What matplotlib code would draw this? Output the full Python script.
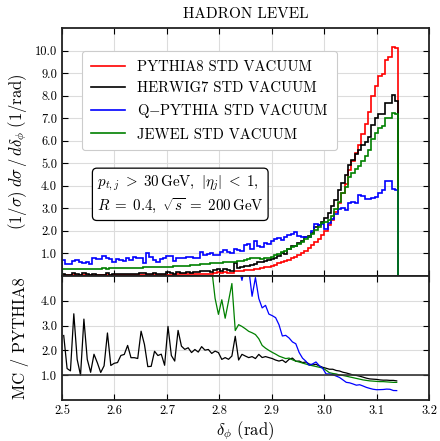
import numpy as np
import matplotlib
matplotlib.use("Agg")
import matplotlib.pyplot as plt
from matplotlib.ticker import FormatStrFormatter, FixedLocator

plt.rcParams['font.family'] = ['cmr10', 'DejaVu Serif']
plt.rcParams['mathtext.fontset'] = 'cm'
plt.rcParams['axes.formatter.use_mathtext'] = True

# ---- data: 100 bins in delta_phi from 2.5 to pi ----
x_min = 2.5
x_max = np.pi
n_bins = 100

pythia8 = [
    0.040, 0.041, 0.040, 0.042, 0.041, 0.043, 0.042, 0.044, 0.043, 0.045,
    0.044, 0.046, 0.045, 0.047, 0.046, 0.048, 0.047, 0.049, 0.049, 0.050,
    0.051, 0.051, 0.052, 0.053, 0.054, 0.055, 0.056, 0.057, 0.058, 0.059,
    0.060, 0.062, 0.063, 0.065, 0.067, 0.070, 0.073, 0.076, 0.080, 0.084,
    0.088, 0.093, 0.100, 0.107, 0.106, 0.139, 0.168, 0.146, 0.182, 0.153,
    0.132, 0.225, 0.214, 0.226, 0.250, 0.268, 0.287, 0.310, 0.330, 0.350,
    0.38, 0.41, 0.45, 0.50, 0.56, 0.62, 0.66, 0.72, 0.79, 0.86,
    0.93, 1.02, 1.12, 1.23, 1.36, 1.50, 1.65, 1.82, 2.00, 2.25,
    2.50, 2.85, 3.25, 3.70, 4.10, 4.70, 5.10, 5.45, 5.82, 6.30,
    6.74, 7.27, 7.97, 8.44, 8.86, 8.98, 9.57, 9.72, 10.15, 10.10,
]

herwig7 = [
    0.104, 0.052, 0.047, 0.146, 0.067, 0.043, 0.137, 0.072, 0.048, 0.083,
    0.066, 0.051, 0.062, 0.127, 0.064, 0.071, 0.071, 0.088, 0.090, 0.110,
    0.087, 0.087, 0.087, 0.147, 0.121, 0.074, 0.076, 0.112, 0.104, 0.109,
    0.084, 0.184, 0.113, 0.102, 0.188, 0.152, 0.149, 0.160, 0.153, 0.171,
    0.170, 0.200, 0.201, 0.218, 0.199, 0.274, 0.321, 0.239, 0.311, 0.251,
    0.234, 0.578, 0.345, 0.416, 0.443, 0.458, 0.502, 0.518, 0.607, 0.599,
    0.665, 0.701, 0.752, 0.805, 0.879, 0.998, 0.997, 1.181, 1.335, 1.342,
    1.460, 1.540, 1.714, 1.784, 1.918, 2.160, 2.260, 2.400, 2.560, 2.790,
    3.10, 3.39, 3.80, 4.14, 4.47, 4.94, 5.15, 5.40, 5.59, 5.80,
    5.93, 6.18, 6.69, 7.01, 7.18, 7.18, 7.66, 7.68, 8.02, 7.78,
]

qpythia = [
    0.71, 0.53, 0.52, 0.68, 0.71, 0.62, 0.59, 0.64, 0.55, 0.78,
    0.76, 0.74, 0.89, 0.80, 0.74, 0.64, 0.74, 0.70, 0.68, 0.78,
    0.72, 0.86, 0.80, 0.78, 0.59, 1.00, 0.85, 0.72, 0.64, 0.75,
    0.82, 0.87, 0.89, 0.65, 0.80, 0.80, 0.78, 0.86, 0.83, 0.80,
    0.78, 1.08, 0.93, 0.96, 1.01, 0.95, 0.93, 1.08, 1.16, 1.08,
    1.01, 1.18, 1.15, 1.09, 1.38, 1.42, 1.20, 1.53, 1.35, 1.30,
    1.45, 1.42, 1.53, 1.66, 1.70, 1.60, 1.72, 1.80, 1.85, 1.95,
    1.78, 1.72, 1.75, 1.72, 1.98, 2.30, 2.28, 2.32, 2.10, 2.36,
    2.55, 2.75, 2.95, 3.00, 2.92, 3.25, 3.30, 3.25, 3.58, 3.55,
    3.42, 3.40, 3.45, 3.50, 3.70, 3.80, 4.20, 4.20, 3.88, 3.82,
]

jewel = [
    0.31, 0.30, 0.31, 0.31, 0.32, 0.31, 0.32, 0.32, 0.33, 0.32,
    0.33, 0.33, 0.34, 0.33, 0.34, 0.35, 0.34, 0.35, 0.36, 0.35,
    0.36, 0.37, 0.37, 0.37, 0.38, 0.38, 0.39, 0.39, 0.40, 0.40,
    0.41, 0.41, 0.42, 0.43, 0.43, 0.44, 0.45, 0.46, 0.47, 0.48,
    0.50, 0.51, 0.53, 0.55, 0.56, 0.57, 0.58, 0.59, 0.60, 0.61,
    0.62, 0.63, 0.65, 0.67, 0.718, 0.742, 0.778, 0.818, 0.815, 0.770,
    0.794, 0.820, 0.864, 0.925, 0.991, 1.066, 1.102, 1.217, 1.280, 1.350,
    1.423, 1.520, 1.624, 1.734, 1.877, 2.025, 2.178, 2.348, 2.400, 2.475,
    2.675, 2.990, 3.280, 3.660, 3.940, 4.370, 4.590, 4.740, 4.890, 5.100,
    5.320, 5.600, 6.060, 6.330, 6.560, 6.650, 6.990, 7.000, 7.210, 7.170,
]

labels = ["PYTHIA8 STD VACUUM", "HERWIG7 STD VACUUM",
          r"Q$-$PYTHIA STD VACUUM", "JEWEL STD VACUUM"]
colors = ["#ff0000", "#000000", "#0000ff", "#008000"]

x_ticks = [2.5, 2.6, 2.7, 2.8, 2.9, 3.0, 3.1, 3.2]
y_ticks_top = [1, 2, 3, 4, 5, 6, 7, 8, 9, 10]
y_ticks_bot = [1, 2, 3, 4]

edges = np.linspace(x_min, x_max, n_bins + 1)
centers = 0.5 * (edges[:-1] + edges[1:])
series = [np.array(pythia8), np.array(herwig7), np.array(qpythia), np.array(jewel)]

fig = plt.figure(figsize=(4.4, 4.41), dpi=100)
gs = fig.add_gridspec(2, 1, height_ratios=[2, 1], hspace=0,
                      left=0.141, right=0.975, top=0.9365, bottom=0.093)
ax = fig.add_subplot(gs[0])
axr = fig.add_subplot(gs[1], sharex=ax)

for vals, lab, col in zip(series, labels, colors):
    ax.stairs(vals, edges, baseline=0, color=col, lw=1.2, label=lab)

ref = series[0]
for vals, col in [(series[1], colors[1]), (series[3], colors[3]), (series[2], colors[2])]:
    axr.plot(centers, vals / ref, color=col, lw=0.9)
axr.axhline(1.0, color='#333333', lw=1.2)

for a in (ax, axr):
    a.set_xlim(2.5, 3.2)
    a.grid(True, color='#dcdcdc', lw=0.8)
    a.set_axisbelow(True)
    a.tick_params(direction='in', top=True, right=True, length=4,
                  labelsize=9, width=0.8)
    for s in a.spines.values():
        s.set_linewidth(1.3)
        s.set_color('#222222')
    a.xaxis.set_major_locator(FixedLocator(x_ticks))

ax.set_ylim(0, 11)
ax.yaxis.set_major_locator(FixedLocator(y_ticks_top))
ax.yaxis.set_major_formatter(FormatStrFormatter('%.1f'))
ax.tick_params(labelbottom=False)

axr.set_ylim(0, 5)
axr.yaxis.set_major_locator(FixedLocator(y_ticks_bot))
axr.yaxis.set_major_formatter(FormatStrFormatter('%.1f'))
axr.xaxis.set_major_formatter(FormatStrFormatter('%.1f'))

ax.set_title("HADRON LEVEL", fontsize=11, pad=7)
ax.set_ylabel(r"$(1/\sigma)\;d\sigma\,/\,d\delta_\phi\;(1/\mathrm{rad})$", fontsize=12)
axr.set_ylabel("MC / PYTHIA8", fontsize=12)
axr.set_xlabel(r"$\delta_\phi$ (rad)", fontsize=12, labelpad=2)
fig.align_ylabels([ax, axr])

leg = ax.legend(loc='upper left', bbox_to_anchor=(0.035, 0.935), fontsize=10.6,
                frameon=True, fancybox=True, framealpha=1.0, edgecolor='#cccccc',
                handlelength=2.3, labelspacing=0.5, borderpad=0.6)
leg.get_frame().set_linewidth(0.8)

ax.text(0.095, 0.41,
        "$p_{t,j} \\;>\\; 30\\,\\mathrm{GeV},\\ |\\eta_j| \\;<\\; 1,$\n$R \\;=\\; 0.4,\\ \\sqrt{s} \\;=\\; 200\\,\\mathrm{GeV}$",
        transform=ax.transAxes, fontsize=10.8, va='top', ha='left', linespacing=1.25,
        bbox=dict(boxstyle='round,pad=0.3', fc='white', ec='black', lw=0.9))

fig.savefig("out.png", dpi=100)
